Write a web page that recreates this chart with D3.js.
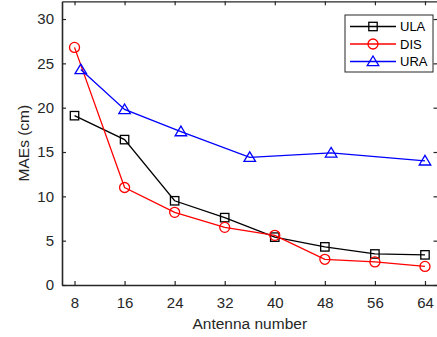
<!DOCTYPE html>
<html>
<head>
<meta charset="UTF-8">
<script src="https://d3js.org/d3.v7.min.js"></script>
<style>
  body { margin: 0; background: #fff; }
  svg { font-family: "Liberation Sans", Arial, sans-serif; }
</style>
</head>
<body>
<svg id="chart" width="437" height="337"></svg>
<script>
// data
const xTicks = [8, 16, 24, 32, 40, 48, 56, 64];
const yTicks = [0, 5, 10, 15, 20, 25, 30];
const ulaX = [8, 16, 24, 32, 40, 48, 56, 64];
const ulaY = [19.1, 16.4, 9.5, 7.6, 5.4, 4.3, 3.5, 3.4];
const disX = [8, 16, 24, 32, 40, 48, 56, 64];
const disY = [26.8, 11.0, 8.2, 6.5, 5.6, 2.9, 2.6, 2.1];
const uraX = [9, 16, 25, 36, 49, 64];
const uraY = [24.3, 19.8, 17.3, 14.4, 14.9, 14.0];
const seriesNames = ['ULA', 'DIS', 'URA'];
const seriesColors = ['#000000', '#ff0000', '#0000ff'];
const seriesMarkers = ['square', 'circle', 'triangle'];

const svg = d3.select('#chart');
const plotL = 62, plotR = 437.5, plotT = 1.3, plotB = 285;
const axisColor = '#262626';

const x = d3.scaleLinear().domain([6, 66]).range([plotL, plotR]);
const y = d3.scaleLinear().domain([0, 32]).range([plotB, plotT]);

const series = [
  { name: seriesNames[0], xs: ulaX, ys: ulaY },
  { name: seriesNames[1], xs: disX, ys: disY },
  { name: seriesNames[2], xs: uraX, ys: uraY },
];

// axes (ticks inside, box on)
const tickSize = 4;
const gx = svg.append('g').attr('transform', `translate(0,${plotB})`)
  .call(d3.axisBottom(x).tickValues(xTicks).tickSizeInner(-tickSize).tickSizeOuter(0).tickPadding(12));
const gy = svg.append('g').attr('transform', `translate(${plotL},0)`)
  .call(d3.axisLeft(y).tickValues(yTicks).tickSizeInner(-tickSize).tickSizeOuter(0).tickPadding(8));
const gt = svg.append('g').attr('transform', `translate(0,${plotT})`)
  .call(d3.axisTop(x).tickValues(xTicks).tickSizeInner(-tickSize).tickSizeOuter(0).tickFormat(''));
const gr = svg.append('g').attr('transform', `translate(${plotR},0)`)
  .call(d3.axisRight(y).tickValues(yTicks).tickSizeInner(-tickSize).tickSizeOuter(0).tickFormat(''));

[gx, gy, gt, gr].forEach(g => {
  g.selectAll('path,line').attr('stroke', axisColor).attr('stroke-width', 1.2);
  g.selectAll('text').attr('fill', axisColor).style('font-size', '15px')
    .style('font-family', '"Liberation Sans", Arial, sans-serif');
});
gy.selectAll('path').attr('stroke-width', 1.6);
gx.selectAll('path').attr('stroke-width', 1.6);

// axis labels
svg.append('text')
  .attr('x', (plotL + plotR) / 2).attr('y', 328.5)
  .attr('text-anchor', 'middle').attr('fill', axisColor)
  .style('font-size', '15.5px')
  .text('Antenna number');

svg.append('text')
  .attr('transform', `translate(29,${(plotT + plotB) / 2}) rotate(-90)`)
  .attr('text-anchor', 'middle').attr('fill', axisColor)
  .style('font-size', '15.5px')
  .text('MAEs (cm)');

const line = d3.line().x(d => x(d[0])).y(d => y(d[1]));

function drawMarker(g, kind, cx, cy, color) {
  if (kind === 'square') {
    g.append('rect').attr('x', cx - 4.2).attr('y', cy - 4.2)
      .attr('width', 8.4).attr('height', 8.4)
      .attr('fill', 'none').attr('stroke', color).attr('stroke-width', 1.3);
  } else if (kind === 'circle') {
    g.append('circle').attr('cx', cx).attr('cy', cy).attr('r', 5)
      .attr('fill', 'none').attr('stroke', color).attr('stroke-width', 1.3);
  } else {
    const h = 5.5;
    g.append('path')
      .attr('d', `M${cx},${cy - h}L${cx + h * 1.05},${cy + h * 0.75}L${cx - h * 1.05},${cy + h * 0.75}Z`)
      .attr('fill', 'none').attr('stroke', color).attr('stroke-width', 1.3);
  }
}

series.forEach((s, i) => {
  const pts = s.xs.map((v, j) => [v, s.ys[j]]);
  const g = svg.append('g');
  g.append('path').datum(pts).attr('d', line)
    .attr('fill', 'none').attr('stroke', seriesColors[i]).attr('stroke-width', 1.3);
  pts.forEach(p => drawMarker(g, seriesMarkers[i], x(p[0]), y(p[1]), seriesColors[i]));
});

// legend
const lg = svg.append('g');
lg.append('rect').attr('x', 345).attr('y', 15).attr('width', 88).attr('height', 57)
  .attr('fill', '#fff').attr('stroke', axisColor).attr('stroke-width', 1);
seriesNames.forEach((name, i) => {
  const ly = 26.5 + i * 17.5;
  lg.append('line').attr('x1', 350).attr('x2', 396).attr('y1', ly).attr('y2', ly)
    .attr('stroke', seriesColors[i]).attr('stroke-width', 1.3);
  drawMarker(lg, seriesMarkers[i], 373, ly, seriesColors[i]);
  lg.append('text').attr('x', 400).attr('y', ly + 4.6)
    .attr('fill', '#000').style('font-size', '13px').text(name);
});
</script>
</body>
</html>
